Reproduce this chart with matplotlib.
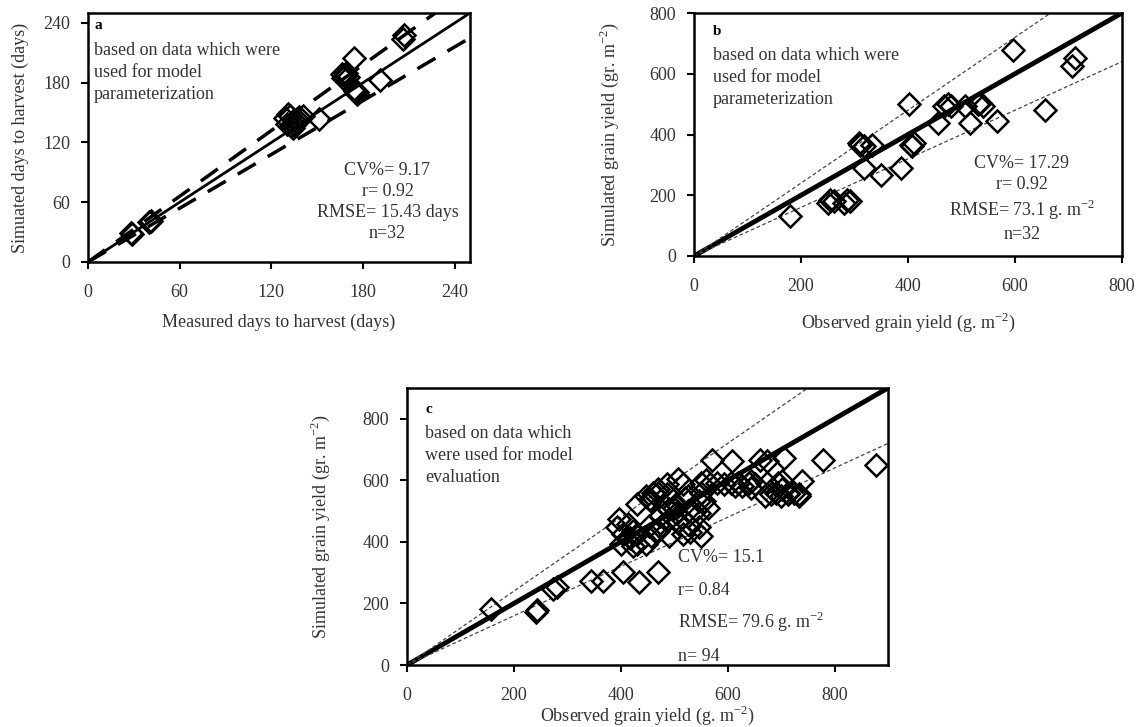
import numpy as np
import matplotlib
matplotlib.use("Agg")
import matplotlib.pyplot as plt

plt.rcParams['font.family'] = ['Liberation Serif', 'DejaVu Serif']
plt.rcParams['mathtext.fontset'] = 'custom'
plt.rcParams['mathtext.rm'] = 'Liberation Serif'

# panel a: days to harvest
meas_a = [207, 206, 174, 166, 168, 170, 167, 169, 191, 176, 174, 175, 129, 131,
          134, 132, 135, 137, 141, 134, 130, 136, 151, 133, 138, 41, 40, 28, 29,
          135, 168, 176]
sim_a = [228, 224, 205, 189, 188, 186, 185, 190, 183, 171, 174, 172, 145, 149,
         140, 147, 143, 144, 147, 135, 139, 141, 144, 137, 146, 41, 40, 29, 28,
         138, 187, 169]

# panel b: grain yield, parameterization
obs_b = [597, 713, 707, 657, 402, 474, 468, 506, 531, 540, 534, 456, 515, 566,
         405, 408, 308, 317, 333, 317, 349, 386, 254, 261, 286, 292, 280, 179,
         251, 311, 481, 411]
sim_b = [679, 652, 625, 482, 499, 499, 493, 493, 499, 493, 504, 438, 438, 444,
         367, 362, 373, 362, 367, 290, 268, 290, 186, 181, 186, 181, 175, 132,
         175, 367, 493, 373]

# panel c: grain yield, evaluation
obs_c = [878, 779, 706, 661, 674, 608, 571, 740, 725, 733, 712, 700, 695, 681,
         670, 674, 652, 644, 606, 614, 567, 550, 550, 516, 520, 486, 486, 448,
         457, 482, 507, 525, 546, 563, 555, 503, 473, 486, 473, 507, 516, 529,
         546, 550, 457, 431, 418, 423, 448, 401, 405, 392, 397, 414, 469, 452,
         491, 503, 469, 461, 593, 627, 644, 701, 469, 405, 435, 367, 345, 281,
         273, 243, 241, 158, 580, 525, 431, 507, 702, 546, 491, 422, 712, 733,
         525, 431, 640, 690, 455, 500, 560, 620, 470, 540]
sim_c = [651, 665, 671, 667, 662, 664, 667, 597, 560, 549, 554, 549, 592, 554,
         549, 592, 587, 597, 592, 581, 587, 592, 560, 587, 544, 587, 554, 549,
         533, 517, 517, 500, 495, 511, 533, 495, 484, 468, 447, 468, 425, 431,
         447, 420, 420, 425, 414, 388, 393, 393, 425, 447, 474, 457, 436, 452,
         506, 522, 571, 560, 587, 581, 576, 571, 301, 301, 269, 274, 274, 253,
         248, 178, 172, 183, 592, 549, 522, 603, 597, 533, 420, 436, 560, 554,
         457, 393, 590, 560, 540, 510, 600, 590, 560, 505]

fig = plt.figure(figsize=(11.42, 7.27), dpi=100)
W, H = 1142, 727


def add_ax(l, r, t, b):
    return fig.add_axes([l / W, 1 - b / H, (r - l) / W, (b - t) / H])


axa = add_ax(88, 470, 13, 262)
axb = add_ax(694, 1122, 13, 256)
axc = add_ax(407, 888, 388, 665)

txt = '#333333'
for ax in (axa, axb, axc):
    for s in ax.spines.values():
        s.set_linewidth(1.8)
        s.set_color('black')
    ax.tick_params(direction='out', length=5, width=1.5, labelsize=13,
                   labelcolor=txt)
    ax.tick_params(axis='x', pad=11)
    ax.tick_params(axis='y', pad=8)

# a
lim = 250
xs = np.array([0, lim])
axa.plot(xs, xs, color='black', lw=2)
axa.plot(xs, 1.1 * xs, color='black', lw=2.5, dashes=(6, 4))
axa.plot(xs, 0.9 * xs, color='black', lw=2.5, dashes=(6, 4))
axa.plot(meas_a, sim_a, 'D', ms=11, mfc='none', mec='black', mew=1.8)
axa.set_xlim(0, lim)
axa.set_ylim(0, lim)
axa.set_xticks([0, 60, 120, 180, 240])
axa.set_yticks([0, 60, 120, 180, 240])
axa.set_xlabel('Measured days to harvest (days)', fontsize=13, color=txt, labelpad=9)
axa.text(4, 237, 'a', fontsize=11, fontweight='bold', va='center')
axa.set_ylabel('Simuated days to harvest (days)', fontsize=13, color=txt, labelpad=10)
axa.text(4, 190, 'based on data which were\nused for model\nparameterization',
         fontsize=13, color=txt, va='center', linespacing=1.4)
axa.text(196, 60, 'CV%= 9.17\nr= 0.92\nRMSE= 15.43 days\nn=32', fontsize=13,
         color=txt, ha='center', va='center', linespacing=1.3)

# b
lim = 800
xs = np.array([0, lim])
axb.plot(xs, xs, color='black', lw=3.5)
axb.plot(xs, 1.2 * xs, color='#444444', lw=0.9, dashes=(3, 2))
axb.plot(xs, 0.8 * xs, color='#444444', lw=0.9, dashes=(3, 2))
axb.plot(obs_b, sim_b, 'D', ms=11, mfc='none', mec='black', mew=1.8)
axb.set_xlim(0, lim)
axb.set_ylim(0, lim)
axb.set_xticks([0, 200, 400, 600, 800])
axb.set_yticks([0, 200, 400, 600, 800])
axb.set_xlabel(r'Observed grain yield (g. m$^{\mathregular{-2}}$)', fontsize=13,
               color=txt, labelpad=11)
axb.set_ylabel(r'Simulated grain yield (gr. m$^{\mathregular{-2}}$)', fontsize=13,
               color=txt, labelpad=20)
axb.text(35, 740, 'b', fontsize=11, fontweight='bold', va='center')
axb.text(35, 588, 'based on data which were\nused for model\nparameterization',
         fontsize=13, color=txt, va='center', linespacing=1.4)
axb.text(613, 188, 'CV%= 17.29\nr= 0.92\nRMSE= 73.1 g. m$^{\\mathregular{-2}}$\nn=32',
         fontsize=13, color=txt, ha='center', va='center', linespacing=1.3)

# c
lim = 900
xs = np.array([0, lim])
axc.plot(xs, xs, color='black', lw=3.5)
axc.plot(xs, 1.2 * xs, color='#444444', lw=0.9, dashes=(3, 2))
axc.plot(xs, 0.8 * xs, color='#444444', lw=0.9, dashes=(3, 2))
axc.plot(obs_c, sim_c, 'D', ms=11, mfc='none', mec='black', mew=1.8)
axc.set_xlim(0, lim)
axc.set_ylim(0, lim)
axc.set_xticks([0, 200, 400, 600, 800])
axc.set_yticks([0, 200, 400, 600, 800])
axc.set_xlabel(r'Observed grain yield (g. m$^{\mathregular{-2}}$)', fontsize=13,
               color=txt, labelpad=0)
axc.set_ylabel(r'Simulated grain yield (gr. m$^{\mathregular{-2}}$)', fontsize=13,
               color=txt, labelpad=22)
axc.text(34, 829, 'c', fontsize=11, fontweight='bold', va='center')
axc.text(34, 680, 'based on data which\nwere used for model\nevaluation',
         fontsize=13, color=txt, va='center', linespacing=1.4)
for yv, s in zip([350, 242, 140, 27],
                 ['CV%= 15.1', 'r= 0.84', 'RMSE= 79.6 g. m$^{\\mathregular{-2}}$', 'n= 94']):
    axc.text(507, yv, s, fontsize=13, color=txt, va='center')

fig.savefig('out.png', dpi=100)
